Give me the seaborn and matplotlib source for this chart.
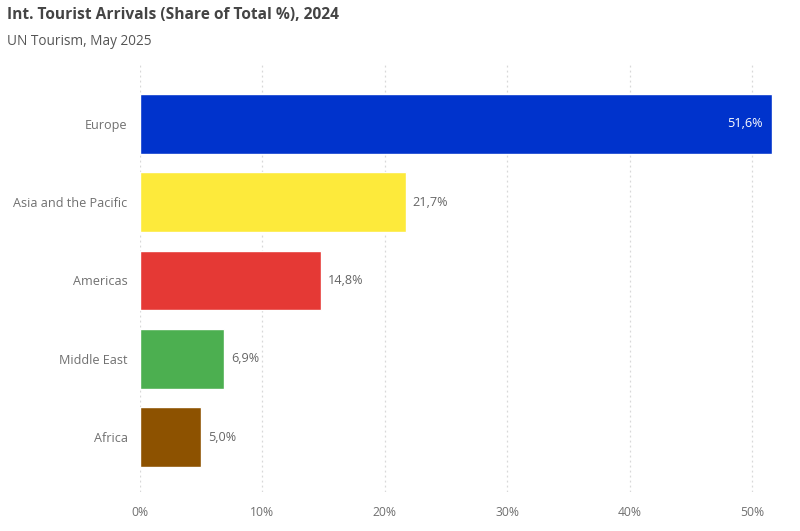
import matplotlib
matplotlib.use("Agg")
import matplotlib.pyplot as plt
import seaborn as sns
import pandas as pd

regions = ["Europe", "Asia and the Pacific", "Americas", "Middle East", "Africa"]
shares = [51.6, 21.7, 14.8, 6.9, 5.0]
colors = ["#0033CC", "#FDEA3B", "#E53935", "#4CAF50", "#8D5200"]
tick_values = [0, 10, 20, 30, 40, 50]
tick_labels = ["0%", "10%", "20%", "30%", "40%", "50%"]
title = "Int. Tourist Arrivals (Share of Total %), 2024"
subtitle = "UN Tourism, May 2025"

sns.set_theme(style="white")
plt.rcParams["font.family"] = ["Open Sans", "DejaVu Sans"]

df = pd.DataFrame({"region": regions, "share": shares})

fig = plt.figure(figsize=(8, 5.31), dpi=100)
ax = fig.add_axes([0.175, 0.0734, 0.7956, 0.8042])

sns.barplot(data=df, x="share", y="region", hue="region", palette=colors,
            order=regions, hue_order=regions, orient="h", width=0.76,
            legend=False, ax=ax, saturation=1, zorder=2)

ax.set_xlim(0, 52)
ax.set_ylim(4.7, -0.75)
ax.set_xticks(tick_values)
ax.set_xticklabels(tick_labels)
ax.set_xlabel("")
ax.set_ylabel("")
for s in ax.spines.values():
    s.set_visible(False)
ax.grid(axis="x", color="#d8d8d8", linestyle=(0, (1.5, 2.5)), linewidth=0.9, zorder=0)
ax.grid(axis="y", visible=False)
ax.tick_params(axis="x", colors="#707070", labelsize=8.7, length=0, pad=10)
ax.tick_params(axis="y", colors="#666666", labelsize=9.1, length=0, pad=9)
for lbl in ax.get_xticklabels() + ax.get_yticklabels():
    lbl.set_color("#707070")

for i, v in enumerate(shares):
    txt = f"{v:.1f}%".replace(".", ",")
    if i == 0:
        ax.text(v - 0.75, i, txt, ha="right", va="center", color="white", fontsize=9.1)
    else:
        ax.text(v + 0.55, i, txt, ha="left", va="center", color="#666666", fontsize=9.1)

fig.text(0.009, 0.972, title, ha="left", va="center", fontsize=11.2,
         fontweight="bold", color="#444444")
fig.text(0.009, 0.922, subtitle, ha="left", va="center", fontsize=9.8, color="#555555")

fig.savefig("out.png", dpi=100)
